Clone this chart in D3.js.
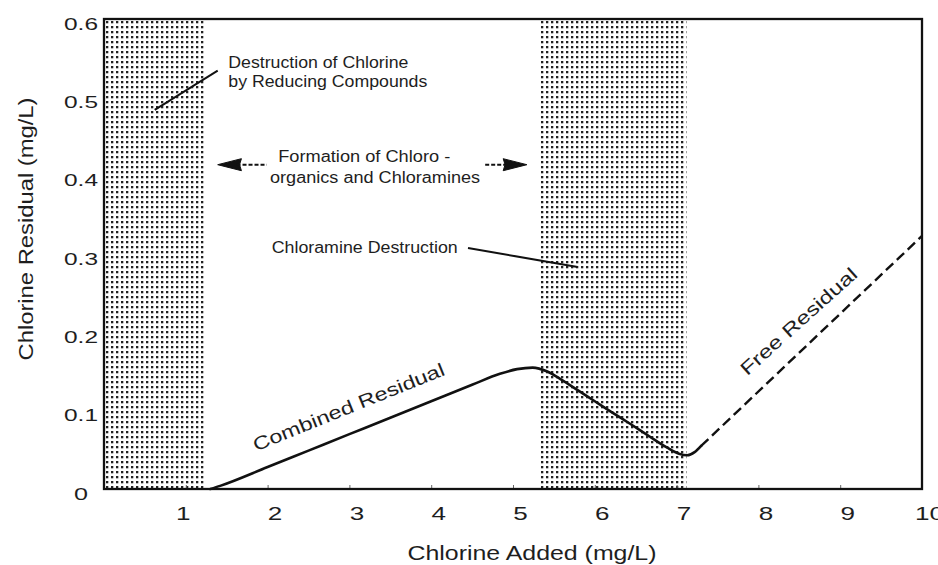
<!DOCTYPE html>
<html><head><meta charset="utf-8">
<script src="https://cdn.jsdelivr.net/npm/d3@7"></script>
<style>
body{margin:0;background:#fff}
svg{display:block}
text{font-family:"Liberation Sans",Arial,Helvetica,sans-serif;fill:#1e1e1e}
</style>
</head><body>
<svg id="c" width="938" height="565"></svg>
<script>
// ---- data ----
const xTickValues = [1, 2, 3, 4, 5, 6, 7, 8, 9, 10];
const xTickLabels = ["1", "2", "3", "4", "5", "6", "7", "8", "9", "10"];
const yTickValues = [0, 0.1, 0.2, 0.3, 0.4, 0.5, 0.6];
const yTickLabels = ["0", "0.1", "0.2", "0.3", "0.4", "0.5", "0.6"];
const shadeStart = [0, 5.32];
const shadeEnd = [1.23, 7.12];
// combined residual (solid)
const combinedX = [1.30, 1.42, 2.00, 2.50, 3.00, 3.50, 4.00, 4.50, 4.84, 5.05, 5.24, 5.42, 5.60, 5.80, 6.00, 6.20, 6.45, 6.67, 6.88, 7.03, 7.13, 7.22, 7.30];
const combinedY = [0.000, 0.004, 0.028, 0.049, 0.070, 0.091, 0.112, 0.133, 0.147, 0.153, 0.155, 0.150, 0.139, 0.1255, 0.112, 0.0985, 0.082, 0.067, 0.053, 0.045, 0.043, 0.047, 0.055];
// free residual (dashed)
const freeX = [7.30, 10.0];
const freeY = [0.055, 0.323];

// ---- chart ----
const svg = d3.select("#c");
const x = d3.scaleLinear().domain([0, 10]).range([104, 922]);
const y = d3.scaleLinear().domain([0, 0.6]).range([489, 19]);

const defs = svg.append("defs");
const pat = defs.append("pattern").attr("id", "dots")
  .attr("patternUnits", "userSpaceOnUse")
  .attr("width", 5).attr("height", 5)
  .attr("x", x(0) + 1).attr("y", y(0.6) + 1);
pat.append("rect").attr("width", 5).attr("height", 5).attr("fill", "#fff");
pat.append("rect").attr("x", 1).attr("y", 1).attr("width", 2.3).attr("height", 2.3).attr("fill", "#222");

// shaded zones
svg.append("g").selectAll("rect").data(d3.range(shadeStart.length)).join("rect")
  .attr("x", i => x(shadeStart[i]))
  .attr("width", i => x(shadeEnd[i]) - x(shadeStart[i]))
  .attr("y", y(0.6)).attr("height", y(0) - y(0.6))
  .attr("fill", "url(#dots)");

// x axis
const gx = svg.append("g").attr("transform", `translate(0,${y(0)})`)
  .call(d3.axisBottom(x).tickValues(xTickValues).tickFormat((d, i) => xTickLabels[i]).tickSize(-4));
gx.select(".domain").remove();
gx.selectAll(".tick line").attr("stroke", "#666").attr("stroke-width", 1);
gx.selectAll(".tick text")
  .attr("y", 31).attr("dy", 0).attr("dx", (d, i) => i === 0 ? -3 : 7)
  .attr("font-size", 19)
  .attr("font-family", '"Liberation Sans",Arial,sans-serif')
  .attr("fill", "#1e1e1e")
  .attr("textLength", (d, i) => xTickLabels[i].length * 14.5)
  .attr("lengthAdjust", "spacingAndGlyphs");

// y axis
const gy = svg.append("g").attr("transform", `translate(${x(0)},0)`)
  .call(d3.axisLeft(y).tickValues(yTickValues).tickFormat((d, i) => yTickLabels[i]).tickSize(0));
gy.select(".domain").remove();
gy.selectAll(".tick text")
  .attr("x", -23).attr("dy", 0).attr("y", 10)
  .attr("text-anchor", "middle")
  .attr("font-size", 17)
  .attr("font-family", '"Liberation Sans",Arial,sans-serif')
  .attr("fill", "#1e1e1e")
  .attr("textLength", (d, i) => yTickLabels[i].length === 1 ? 14 : 34)
  .attr("lengthAdjust", "spacingAndGlyphs");

// frame
svg.append("rect")
  .attr("x", x(0)).attr("y", y(0.6))
  .attr("width", x(10) - x(0)).attr("height", y(0) - y(0.6))
  .attr("fill", "none").attr("stroke", "#111").attr("stroke-width", 2.3);

// curves
const line = d3.line().x(d => x(d[0])).y(d => y(d[1])).curve(d3.curveMonotoneX);
svg.append("path").datum(d3.zip(combinedX, combinedY))
  .attr("d", line).attr("fill", "none").attr("stroke", "#111").attr("stroke-width", 2.6)
  .attr("stroke-linejoin", "round").attr("stroke-linecap", "round");
svg.append("path").datum(d3.zip(freeX, freeY))
  .attr("d", line).attr("fill", "none").attr("stroke", "#111").attr("stroke-width", 2.4)
  .attr("stroke-dasharray", "10,5");

// annotation helpers
function txt(s, vx, vy, fs, len, opts = {}) {
  const t = svg.append("text").attr("x", x(vx)).attr("y", y(vy))
    .attr("font-size", fs).attr("textLength", len).attr("lengthAdjust", "spacingAndGlyphs")
    .text(s);
  if (opts.anchor) t.attr("text-anchor", opts.anchor);
  if (opts.rotate !== undefined) t.attr("transform", `rotate(${opts.rotate},${x(vx)},${y(vy)})`);
  return t;
}
function seg(v1, r1, v2, r2, w, dash) {
  const p = svg.append("line").attr("x1", x(v1)).attr("y1", y(r1)).attr("x2", x(v2)).attr("y2", y(r2))
    .attr("stroke", "#111").attr("stroke-width", w);
  if (dash) p.attr("stroke-dasharray", dash);
  return p;
}
function head(tipV, baseV, r) {
  const tx = x(tipV), bx = x(baseV), yy = y(r);
  const nx = bx + (tx - bx) * 0.08;
  svg.append("path")
    .attr("d", `M${tx},${yy} L${bx},${yy - 6} L${nx},${yy} L${bx},${yy + 6} Z`)
    .attr("fill", "#111").attr("stroke", "#111").attr("stroke-width", 1).attr("stroke-linejoin", "round");
}

// Destruction of Chlorine by Reducing Compounds
txt("Destruction of Chlorine", 1.52, 0.5375, 16, 180);
txt("by Reducing Compounds", 1.52, 0.513, 16, 199);
seg(0.62, 0.484, 1.39, 0.534, 2);

// Formation arrows & text
txt("Formation of Chloro -", 2.13, 0.4175, 16, 172);
txt("organics and Chloramines", 2.03, 0.391, 16, 210);
head(1.39, 1.68, 0.414);
seg(1.62, 0.414, 1.99, 0.414, 2, "4,2");
seg(4.66, 0.414, 4.95, 0.414, 2, "4,2");
head(5.17, 4.88, 0.414);

// Chloramine Destruction
txt("Chloramine Destruction", 2.05, 0.301, 16, 186);
seg(4.45, 0.3077, 5.79, 0.2834, 2);

// curve labels
txt("Combined Residual", 3.02, 0.097, 18.5, 205, {anchor: "middle", rotate: -22});
txt("Free Residual", 8.545, 0.208, 18.5, 150, {anchor: "middle", rotate: -42});

// axis titles
svg.append("text").attr("x", 532).attr("y", 560).attr("text-anchor", "middle")
  .attr("font-size", 19.5).attr("textLength", 249).attr("lengthAdjust", "spacingAndGlyphs")
  .text("Chlorine Added (mg/L)");
svg.append("text").attr("transform", "translate(33,229) rotate(-90)").attr("text-anchor", "middle")
  .attr("font-size", 19.5).attr("textLength", 263).attr("lengthAdjust", "spacingAndGlyphs")
  .text("Chlorine Residual (mg/L)");
</script>
</body></html>
